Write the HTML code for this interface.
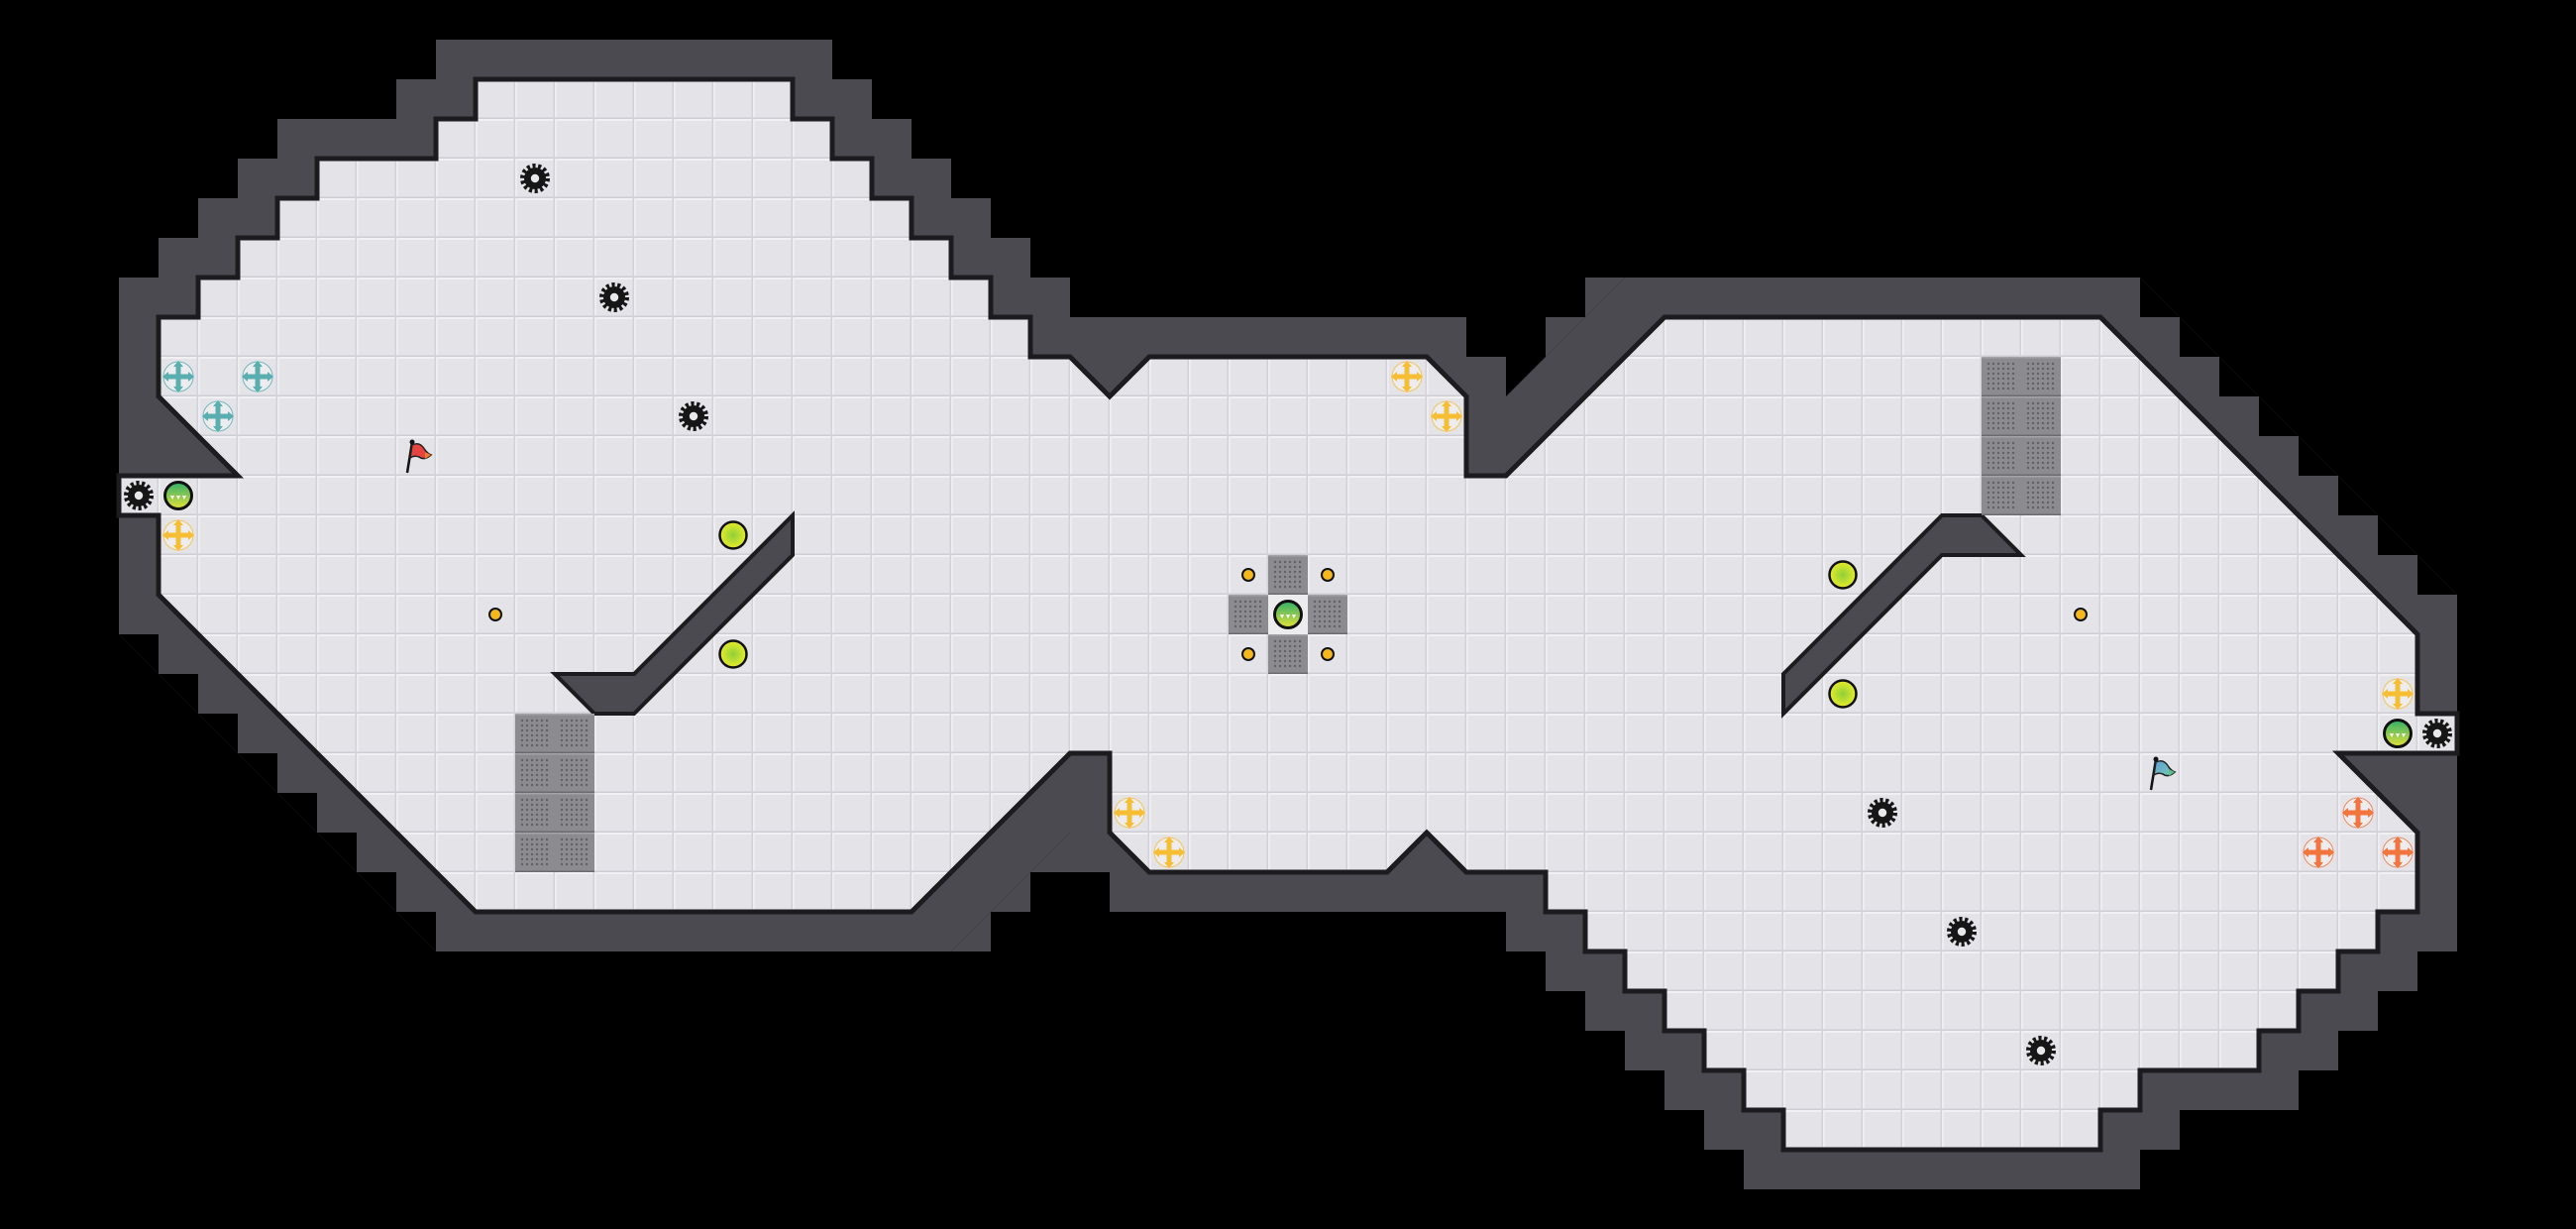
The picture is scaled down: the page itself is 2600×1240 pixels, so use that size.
<!DOCTYPE html>
<html><head><meta charset="utf-8"><style>
html,body{margin:0;padding:0;background:#000;}
svg{display:block;}
</style></head><body>
<svg xmlns="http://www.w3.org/2000/svg" xmlns:xlink="http://www.w3.org/1999/xlink" width="2600" height="1240" viewBox="0 0 2600 1240">
<defs>
<pattern id="tile" x="0" y="0" width="40" height="40" patternUnits="userSpaceOnUse">
<rect width="40" height="40" fill="#e3e3e8"/>
<rect x="0" y="0" width="40" height="2" fill="#f1f1f4"/>
<rect x="0" y="0" width="2" height="40" fill="#eeeef2"/>
<rect x="0" y="38.5" width="40" height="1.5" fill="#cdcdd3"/>
<rect x="38.5" y="0" width="1.5" height="40" fill="#d2d2d8"/>
</pattern>
<pattern id="grate" x="0" y="0" width="40" height="40" patternUnits="userSpaceOnUse">
<rect width="40" height="40" fill="#8b8b90"/>
<rect x="0" y="0" width="40" height="1.5" fill="#a4a4a8"/>
<rect x="0" y="38.5" width="40" height="1.5" fill="#6c6c70"/>
<g fill="#616165">
<circle cx="7" cy="7" r="1.2"/><circle cx="12" cy="7" r="1.2"/><circle cx="17" cy="7" r="1.2"/><circle cx="22" cy="7" r="1.2"/><circle cx="27" cy="7" r="1.2"/><circle cx="32" cy="7" r="1.2"/>
<circle cx="7" cy="12" r="1.2"/><circle cx="12" cy="12" r="1.2"/><circle cx="17" cy="12" r="1.2"/><circle cx="22" cy="12" r="1.2"/><circle cx="27" cy="12" r="1.2"/><circle cx="32" cy="12" r="1.2"/>
<circle cx="7" cy="17" r="1.2"/><circle cx="12" cy="17" r="1.2"/><circle cx="17" cy="17" r="1.2"/><circle cx="22" cy="17" r="1.2"/><circle cx="27" cy="17" r="1.2"/><circle cx="32" cy="17" r="1.2"/>
<circle cx="7" cy="22" r="1.2"/><circle cx="12" cy="22" r="1.2"/><circle cx="17" cy="22" r="1.2"/><circle cx="22" cy="22" r="1.2"/><circle cx="27" cy="22" r="1.2"/><circle cx="32" cy="22" r="1.2"/>
<circle cx="7" cy="27" r="1.2"/><circle cx="12" cy="27" r="1.2"/><circle cx="17" cy="27" r="1.2"/><circle cx="22" cy="27" r="1.2"/><circle cx="27" cy="27" r="1.2"/><circle cx="32" cy="27" r="1.2"/>
<circle cx="7" cy="32" r="1.2"/><circle cx="12" cy="32" r="1.2"/><circle cx="17" cy="32" r="1.2"/><circle cx="22" cy="32" r="1.2"/><circle cx="27" cy="32" r="1.2"/><circle cx="32" cy="32" r="1.2"/>
</g>
</pattern>
<polygon id="fl" points="480,80 800,80 800,120 840,120 840,160 880,160 880,200 920,200 920,240 960,240 960,280 1000,280 1000,320 1040,320 1040,360 1080,360 1120,400 1160,360 1440,360 1480,400 1480,480 1520,480 1680,320 2120,320 2440,640 2440,720 2480,720 2480,760 2360,760 2440,840 2440,920 2400,920 2400,960 2360,960 2360,1000 2320,1000 2320,1040 2280,1040 2280,1080 2160,1080 2160,1120 2120,1120 2120,1160 1800,1160 1800,1120 1760,1120 1760,1080 1720,1080 1720,1040 1680,1040 1680,1000 1640,1000 1640,960 1600,960 1600,920 1560,920 1560,880 1480,880 1440,840 1400,880 1160,880 1120,840 1120,760 1080,760 920,920 480,920 160,600 160,520 120,520 120,480 240,480 160,400 160,320 200,320 200,280 240,280 240,240 280,240 280,200 320,200 320,160 440,160 440,120 480,120"/>
<linearGradient id="og" x1="0" y1="0" x2="0" y2="1"><stop offset="0" stop-color="#2fae6a"/><stop offset="1" stop-color="#e4e23a"/></linearGradient>
<radialGradient id="yg" cx="0.5" cy="0.5" r="0.5"><stop offset="0" stop-color="#8fcf3a"/><stop offset="1" stop-color="#e8ec2a"/></radialGradient>
<linearGradient id="bf" x1="0" y1="0" x2="1" y2="1"><stop offset="0" stop-color="#5aa0d8"/><stop offset="1" stop-color="#7cc8b0"/></linearGradient>
<symbol id="gear" viewBox="-20 -20 40 40" width="40" height="40" overflow="visible">
<circle r="11" fill="#161616"/>
<circle r="12.5" fill="none" stroke="#161616" stroke-width="5" stroke-dasharray="3.1 2.5"/>
<circle r="4.2" fill="#e9e9ec"/>
</symbol>
<symbol id="orb" viewBox="-20 -20 40 40" width="40" height="40" overflow="visible">
<circle r="16" fill="#f2f2f4" opacity="0.7"/>
<circle r="13.5" fill="url(#og)" stroke="#111" stroke-width="3"/>
<path d="M-8,0 l4,0 l-2,4z M-2,0 l4,0 l-2,4z M4,0 l4,0 l-2,4z" fill="#fff"/>
</symbol>
<symbol id="ball" viewBox="-20 -20 40 40" width="40" height="40" overflow="visible">
<circle r="13.5" fill="url(#yg)" stroke="#111" stroke-width="2.5"/>
</symbol>
<symbol id="dot" viewBox="-20 -20 40 40" width="40" height="40" overflow="visible">
<circle r="7" fill="#f2f2f4"/>
<circle r="6" fill="#f4b81c" stroke="#111" stroke-width="2"/>
</symbol>
<g id="crossShape">
<circle r="15" fill="#f0f0f3" opacity="0.8"/>
<path d="M-11,0 H11 M0,-11 V11" stroke-width="5"/>
<path d="M-16,0 L-10,-5 L-10,5z M16,0 L10,-5 L10,5z M0,-16 L-5,-10 L5,-10z M0,16 L-5,10 L5,10z" stroke="none"/>
</g>
<symbol id="crT" viewBox="-20 -20 40 40" width="40" height="40" overflow="visible"><g stroke="#5aaeb0" fill="#5aaeb0"><use xlink:href="#crossShape"/></g></symbol>
<symbol id="crY" viewBox="-20 -20 40 40" width="40" height="40" overflow="visible"><g stroke="#f6be34" fill="#f6be34"><use xlink:href="#crossShape"/></g></symbol>
<symbol id="crO" viewBox="-20 -20 40 40" width="40" height="40" overflow="visible"><g stroke="#f2743e" fill="#f2743e"><use xlink:href="#crossShape"/></g></symbol>
</defs>
<rect width="2600" height="1240" fill="#000"/>
<!-- walls: dilation of floor -->
<g fill="#4b4a50">
<use xlink:href="#fl" x="-40" y="-40"/><use xlink:href="#fl" x="0" y="-40"/><use xlink:href="#fl" x="40" y="-40"/>
<use xlink:href="#fl" x="-40" y="0"/><use xlink:href="#fl" x="40" y="0"/>
<use xlink:href="#fl" x="-40" y="40"/><use xlink:href="#fl" x="0" y="40"/><use xlink:href="#fl" x="40" y="40"/>
</g>
<!-- black corrections -->
<g fill="#000">
<rect x="70" y="440" width="50" height="120"/>
<rect x="2480" y="680" width="50" height="120"/>
<rect x="1040" y="880" width="80" height="40"/>
<rect x="1000" y="920" width="40" height="40"/>
<rect x="1480" y="270" width="120" height="50"/>
<rect x="1480" y="320" width="80" height="40"/>
<!-- left-bottom stair cutouts -->
<polygon points="120,640 160,640 160,680"/>
<polygon points="160,680 200,680 200,720"/>
<polygon points="200,720 240,720 240,760"/>
<polygon points="240,760 280,760 280,800"/>
<polygon points="280,800 320,800 320,840"/>
<polygon points="320,840 360,840 360,880"/>
<polygon points="360,880 400,880 400,920"/>
<polygon points="400,920 440,920 440,960"/>
<!-- right-top stair cutouts -->
<polygon points="2160,280 2160,320 2200,320"/>
<polygon points="2200,320 2200,360 2240,360"/>
<polygon points="2240,360 2240,400 2280,400"/>
<polygon points="2280,400 2280,440 2320,440"/>
<polygon points="2320,440 2320,480 2360,480"/>
<polygon points="2360,480 2360,520 2400,520"/>
<polygon points="2400,520 2400,560 2440,560"/>
<polygon points="2440,560 2440,600 2480,600"/>
</g>
<!-- dark additions -->
<g fill="#4b4a50">
<rect x="1440" y="320" width="40" height="40"/>
<polygon points="1640,280 1600,280 1600,320"/>
<polygon points="1600,320 1560,320 1560,360"/>
<polygon points="1080,840 1080,880 1040,880"/>
<polygon points="1040,880 1040,920 1000,920"/>
<polygon points="1000,920 1000,960 960,960"/>
</g>
<!-- floor -->
<use xlink:href="#fl" fill="url(#tile)" stroke="#1c1c1f" stroke-width="5" stroke-linejoin="miter"/>
<!-- inner walls -->
<polygon points="800,520 800,560 640,720 600,720 560,680 640,680" fill="#4b4a50" stroke="#1c1c1f" stroke-width="4"/>
<polygon points="1800,680 1960,520 2000,520 2040,560 1960,560 1800,720" fill="#4b4a50" stroke="#1c1c1f" stroke-width="4"/>
<!-- grates -->
<rect x="520" y="720" width="80" height="160" fill="url(#grate)"/>
<rect x="2000" y="360" width="80" height="160" fill="url(#grate)"/>
<rect x="1280" y="560" width="40" height="40" fill="url(#grate)"/>
<rect x="1240" y="600" width="40" height="40" fill="url(#grate)"/>
<rect x="1320" y="600" width="40" height="40" fill="url(#grate)"/>
<rect x="1280" y="640" width="40" height="40" fill="url(#grate)"/>
<rect x="1280" y="600" width="40" height="40" fill="#ececef"/>
<!-- gears -->
<use xlink:href="#gear" x="520" y="160"/>
<use xlink:href="#gear" x="600" y="280"/>
<use xlink:href="#gear" x="680" y="400"/>
<use xlink:href="#gear" x="120" y="480"/>
<use xlink:href="#gear" x="1880" y="800"/>
<use xlink:href="#gear" x="1960" y="920"/>
<use xlink:href="#gear" x="2040" y="1040"/>
<use xlink:href="#gear" x="2440" y="720"/>
<!-- orbs -->
<use xlink:href="#orb" x="160" y="480"/>
<use xlink:href="#orb" x="1280" y="600"/>
<use xlink:href="#orb" x="2400" y="720"/>
<!-- crosses -->
<use xlink:href="#crT" x="160" y="360"/>
<use xlink:href="#crT" x="240" y="360"/>
<use xlink:href="#crT" x="200" y="400"/>
<use xlink:href="#crY" x="160" y="520"/>
<use xlink:href="#crY" x="1400" y="360"/>
<use xlink:href="#crY" x="1440" y="400"/>
<use xlink:href="#crY" x="1120" y="800"/>
<use xlink:href="#crY" x="1160" y="840"/>
<use xlink:href="#crY" x="2400" y="680"/>
<use xlink:href="#crO" x="2360" y="800"/>
<use xlink:href="#crO" x="2320" y="840"/>
<use xlink:href="#crO" x="2400" y="840"/>
<!-- balls -->
<use xlink:href="#ball" x="720" y="520"/>
<use xlink:href="#ball" x="720" y="640"/>
<use xlink:href="#ball" x="1840" y="560"/>
<use xlink:href="#ball" x="1840" y="680"/>
<!-- dots -->
<use xlink:href="#dot" x="480" y="600"/>
<use xlink:href="#dot" x="1240" y="560"/>
<use xlink:href="#dot" x="1320" y="560"/>
<use xlink:href="#dot" x="1240" y="640"/>
<use xlink:href="#dot" x="1320" y="640"/>
<use xlink:href="#dot" x="2080" y="600"/>
<!-- flags -->
<g transform="translate(420,460)">
<path d="M-9,17 L-4,-14" stroke="#111" stroke-width="2.5"/>
<circle cx="-4" cy="-14" r="2.5" fill="#111"/>
<path d="M-4,-11 Q4,-15 9,-6 Q12,-2 15,-1 Q8,5 3,1 Q-2,-1 -6,2 Z" fill="#e8443f" stroke="#222" stroke-width="1.5"/>
<path d="M9,-4 L15,-1 L9,3z" fill="#f07b2f"/>
</g>
<g transform="translate(2180,780)">
<path d="M-9,17 L-4,-14" stroke="#111" stroke-width="2.5"/>
<circle cx="-4" cy="-14" r="2.5" fill="#111"/>
<path d="M-4,-11 Q4,-15 9,-6 Q12,-2 15,-1 Q8,5 3,1 Q-2,-1 -6,2 Z" fill="url(#bf)" stroke="#222" stroke-width="1.5"/>
<path d="M9,-4 L15,-1 L9,3z" fill="#5cc08a"/>
</g>
</svg>
</body></html>
